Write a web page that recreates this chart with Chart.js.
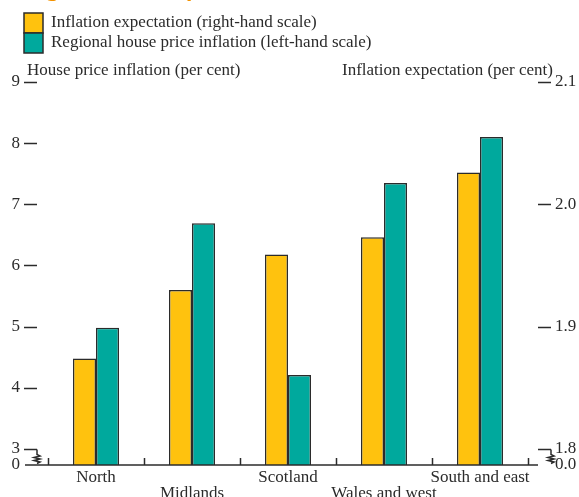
<!DOCTYPE html>
<html>
<head>
<meta charset="utf-8">
<script src="https://cdn.jsdelivr.net/npm/chart.js@4"></script>
<style>
  body { margin: 0; background: #fff; }
  canvas { display: block; }
</style>
</head>
<body>
<canvas id="chart" width="579" height="497"></canvas>
<script>
  const regions = ['North', 'Midlands', 'Scotland', 'Wales and west', 'South and east'];
  const inflationExpectation = [1.874, 1.930, 1.959, 1.973, 2.026];
  const housePriceInflation = [4.98, 6.69, 4.21, 7.35, 8.10];
  const leftTicks = [3, 4, 5, 6, 7, 8, 9];
  const rightTicks = [1.8, 1.9, 2.0, 2.1];

  const serif = '"Liberation Serif", "DejaVu Serif", serif';
  const ink = '#2b2b2b';
  const leftMin = 2.738;
  const rightMin = 1.7869;

  // odd labels go on a second line, as in the original
  const labels = regions.map((r, i) => (i % 2 ? ['', r] : r));

  const decorations = {
    id: 'decorations',
    afterDraw(chart) {
      const c = chart.ctx;
      const yL = chart.scales.yL, yR = chart.scales.yR, x = chart.scales.x;
      const bottom = chart.chartArea.bottom;
      c.save();
      c.strokeStyle = ink;
      c.lineWidth = 1.5;

      // tick marks
      leftTicks.forEach(v => {
        const y = Math.round(yL.getPixelForValue(v)) + 0.5;
        c.beginPath(); c.moveTo(24, y); c.lineTo(37, y); c.stroke();
      });
      rightTicks.forEach(v => {
        const y = Math.round(yR.getPixelForValue(v)) + 0.5;
        c.beginPath(); c.moveTo(538, y); c.lineTo(551, y); c.stroke();
      });

      // baseline and category ticks
      c.beginPath(); c.moveTo(25, bottom); c.lineTo(538, bottom); c.stroke();
      for (let i = 0; i <= regions.length; i++) {
        const px = Math.round(x.getPixelForValue(i - 0.5)) + 0.5;
        c.beginPath(); c.moveTo(px, bottom); c.lineTo(px, bottom - 7); c.stroke();
      }

      // axis breaks
      const zig = (x0, top) => {
        c.beginPath();
        c.moveTo(x0, top);
        c.lineTo(x0, top + 5);
        c.lineTo(x0 + 3, top + 6.5);
        c.lineTo(x0 - 3, top + 8);
        c.lineTo(x0 + 3, top + 9.5);
        c.lineTo(x0 - 3, top + 11);
        c.lineTo(x0 + 3, top + 12.5);
        c.lineTo(x0, top + 14);
        c.stroke();
      };
      zig(37, Math.round(yL.getPixelForValue(3)) + 0.5);
      zig(551, Math.round(yR.getPixelForValue(1.8)) + 0.5);

      // axis titles
      c.fillStyle = ink;
      c.font = '17px ' + serif;
      c.textBaseline = 'alphabetic';
      c.textAlign = 'left';
      c.fillText('House price inflation (per cent)', 27, 75);
      c.textAlign = 'right';
      c.fillText('Inflation expectation (per cent)', 553, 75);

      // legend
      c.textAlign = 'left';
      c.textBaseline = 'middle';
      chart.data.datasets.forEach((ds, i) => {
        const top = 13 + i * 20;
        c.fillStyle = ds.backgroundColor;
        c.fillRect(24, top, 19, 20);
        c.strokeRect(24, top, 19, 20);
        c.fillStyle = ink;
        c.fillText(ds.label, 51, top + 10);
      });

      // heading, mostly cut off above the picture
      c.fillStyle = '#F39200';
      c.font = 'bold 21px "Noto Sans", sans-serif';
      c.textBaseline = 'alphabetic';
      c.fillText('Regional house prices', 20, -4);
      c.restore();
    }
  };

  // y axes: fixed width, and no extra top/bottom padding from the label gap
  const fixY = (w) => (s) => { s.width = w; s.paddingTop = 0; s.paddingBottom = 0; };

  const config = {
    type: 'bar',
    data: {
      labels: labels,
      datasets: [
        {
          label: 'Inflation expectation (right-hand scale)',
          data: inflationExpectation,
          yAxisID: 'yR',
          backgroundColor: '#FFC20E',
          borderColor: ink,
          borderWidth: 1.5,
          categoryPercentage: 0.48,
          barPercentage: 1
        },
        {
          label: 'Regional house price inflation (left-hand scale)',
          data: housePriceInflation,
          yAxisID: 'yL',
          backgroundColor: '#00A99D',
          borderColor: ink,
          borderWidth: 1.5,
          categoryPercentage: 0.48,
          barPercentage: 1
        }
      ]
    },
    options: {
      responsive: false,
      animation: false,
      layout: { padding: { top: 82, left: 0, right: 0, bottom: 0 } },
      plugins: {
        legend: { display: false },
        title: { display: false },
        tooltip: { enabled: false }
      },
      scales: {
        x: {
          grid: { display: false, drawTicks: false },
          border: { display: false },
          ticks: {
            color: ink,
            font: { family: serif, size: 17, lineHeight: '16px' },
            padding: 5,
            maxRotation: 0,
            autoSkip: false
          },
          afterFit: (s) => { s.height = 32; s.paddingLeft = 0; s.paddingRight = 0; }
        },
        yL: {
          position: 'left',
          min: leftMin,
          max: 9,
          grid: { display: false, drawTicks: false },
          border: { display: false },
          afterBuildTicks: (s) => { s.ticks = [leftMin].concat(leftTicks).map(v => ({ value: v })); },
          ticks: {
            color: ink,
            font: { family: serif, size: 17 },
            padding: 28,
            autoSkip: false,
            callback: (v) => (v === leftMin ? '0' : String(v))
          },
          afterFit: fixY(48)
        },
        yR: {
          position: 'right',
          min: rightMin,
          max: 2.1,
          grid: { display: false, drawTicks: false },
          border: { display: false },
          afterBuildTicks: (s) => { s.ticks = [rightMin].concat(rightTicks).map(v => ({ value: v })); },
          ticks: {
            color: ink,
            font: { family: serif, size: 17 },
            padding: 27,
            autoSkip: false,
            callback: (v) => (v === rightMin ? '0.0' : v.toFixed(1))
          },
          afterFit: fixY(51)
        }
      }
    },
    plugins: [decorations]
  };

  const ctx = document.getElementById('chart').getContext('2d');
  new Chart(ctx, config);
</script>
</body>
</html>
